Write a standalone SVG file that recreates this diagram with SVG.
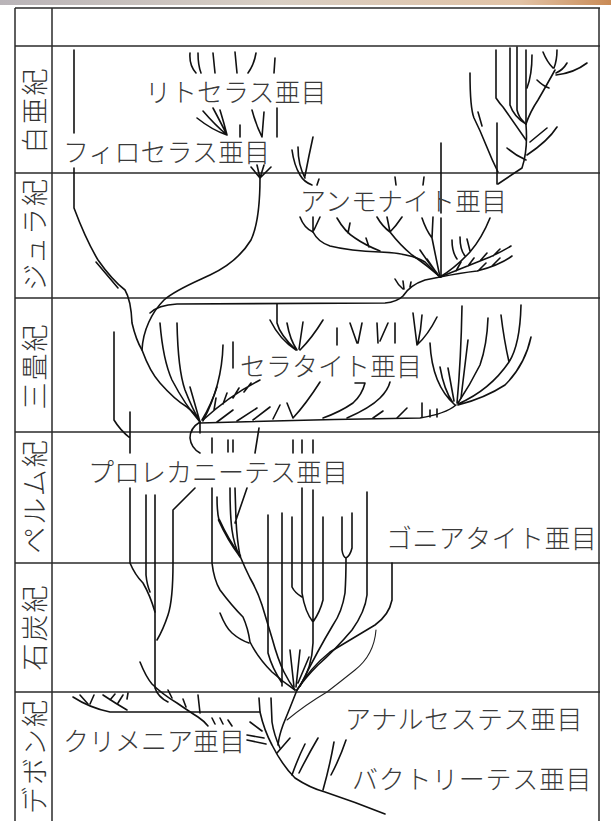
<svg xmlns="http://www.w3.org/2000/svg" width="611" height="821" viewBox="0 0 611 821">
<defs>
<linearGradient id="strip" x1="0" y1="0" x2="1" y2="0">
<stop offset="0" stop-color="#b9b4b8"/><stop offset="0.45" stop-color="#d9cfc4"/><stop offset="0.85" stop-color="#e2c3a6"/><stop offset="1" stop-color="#c98a55"/>
</linearGradient>
<style>
.f{stroke:#2b2b2b;stroke-width:1.5;fill:none}
.t{stroke:#111;stroke-width:1.6;fill:none;stroke-linecap:round;stroke-linejoin:round}
.tk{stroke:#111;stroke-width:2.6;fill:none;stroke-linecap:round}
.th{stroke:#222;stroke-width:1.1;fill:none;stroke-linecap:round}
.lbl{font-family:"Noto Sans CJK JP","Noto Sans CJK SC",sans-serif;font-size:26px;font-weight:300;fill:#3a3a3a}
.per{font-family:"Noto Sans CJK JP","Noto Sans CJK SC",sans-serif;font-size:27px;font-weight:300;fill:#333;text-anchor:middle;dominant-baseline:central;letter-spacing:2px}
</style>
</defs>
<rect x="0" y="0" width="611" height="821" fill="#fff"/>
<rect x="0" y="0" width="611" height="5" fill="url(#strip)"/>
<g id="frame" class="f">
<path d="M15,8 H600 M15,46 H600 M15,173 H600 M15,298 H600 M15,432 H600 M15,563 H600 M15,692 H600"/>
<path d="M15,8 V821 M52,8 V821 M599,8 V821"/>
</g>
<g id="periods">
<text class="per" transform="translate(33,110) rotate(-90)">白亜紀</text>
<text class="per" transform="translate(33,234) rotate(-90)">ジュラ紀</text>
<text class="per" transform="translate(33,366) rotate(-90)">三畳紀</text>
<text class="per" transform="translate(33,496) rotate(-90)">ペルム紀</text>
<text class="per" transform="translate(33,627) rotate(-90)">石炭紀</text>
<text class="per" transform="translate(33,756) rotate(-90)">デボン紀</text>
</g>
<g id="connectors">
<g id="phylloceras-line" class="t">
<path d="M74,50 V133 M74,168 V208 Q86,240 98,260 Q112,280 125,290 Q131,300 132,323 Q136,340 142,350 Q150,372 160,383 Q175,400 187,407 Q196,414 200,422"/>
<path d="M96,262 L118,288"/>
<path d="M251,167 L260,178 M257,165 L260,178 M264,165 L260,178 M271,167 L260,178"/>
<path d="M260,178 C260,200 258,225 251,240 C240,258 225,268 210,275 C195,282 175,290 164,300 C152,312 143,330 142,350"/>
<path d="M197,118 Q212,130 227,135 M203,111 Q215,125 227,135 M213,108 Q221,123 227,135 M220,110 Q224,123 227,135"/>
<path d="M240,125 V137 M252,110 Q256,125 262,137 M264,112 L262,137 M277,108 V137"/>
</g>
<g id="lytoceras-tips" class="t">
<path d="M190,53 Q189,65 196,73 M198,53 Q198,65 201,73 M213,53 L215,73 M235,52 L237,73 M256,53 Q254,65 248,73 M275,58 L274,73"/>
</g>
<g id="cretaceous-right" class="t">
<path d="M526,50 V125 Q528,150 522,168 L498,184"/>
<path d="M497,123 V184"/>
<path d="M496,50 V98 Q500,104 503,107 Q515,124 526,140"/>
<path d="M510,48 V105 Q514,117 526,124"/>
<path d="M517,47 V110 Q519,118 524,122"/>
<path d="M532,55 Q532,75 527,88"/>
<path d="M543,52 Q547,62 553,68 M557,50 Q557,60 554,68 M567,63 Q563,70 556,73 M587,63 Q574,73 556,75"/>
<path d="M555,70 Q545,88 538,100 Q530,112 526,124"/>
<path d="M537,80 Q543,86 549,88"/>
<path d="M557,127 Q548,141 527,155 M547,128 L530,142 M507,148 Q515,155 526,160"/>
<path d="M470,73 Q470,108 474,118 Q480,130 486,145 Q492,160 498,172 M478,112 L482,126"/>
<path d="M441,143 V213 M441,218 V277"/>
</g>
<g id="ammonite-tree" class="t">
<path d="M292,150 Q294,165 300,175 Q304,182 312,185 M298,147 Q298,165 305,178 M313,137 Q309,155 305,176 M319,179 L317,185"/>
<path d="M395,177 L396,185 M424,177 L423,185"/>
<path d="M150,313 Q158,305 177,304 L385,303 Q397,302 403,296 Q410,285 425,280 L440,277"/>
<path d="M395,279 Q398,285 403,289 M403,281 L404,289 M411,282 L410,287"/>
<path d="M313,232 Q318,242 330,246 Q350,251 380,252 Q410,253 425,262 Q433,270 440,277"/>
<path d="M300,217 Q304,228 313,232 M313,217 L313,232 M320,217 L314,230"/>
<path d="M337,218 Q345,232 355,238 Q365,245 380,251 M350,223 L348,233 M366,238 L369,247"/>
<path d="M377,217 Q382,226 390,232 M387,217 L390,232 M402,217 Q396,226 390,232 M390,232 Q400,245 412,255 Q428,266 440,277"/>
<path d="M422,218 Q426,230 432,238 M433,217 L432,238 M432,238 Q436,258 440,277"/>
<path d="M490,218 Q482,238 470,252 Q455,268 440,277 M452,240 Q452,252 457,259 M460,237 Q460,250 465,256 M467,239 L470,251"/>
<path d="M440,277 Q470,265 490,257 Q503,251 511,246 M456,271 L461,262 M468,266 L474,258 M480,261 L487,253 M493,256 L500,249"/>
<path d="M440,277 Q460,273 477,271 Q500,265 512,256 M478,271 L486,263 M492,266 L500,258"/>
<path d="M420,250 Q430,265 437,273 M427,259 L438,275"/>
</g>
<g id="ceratite-tree" class="t">
<path d="M160,323 Q163,360 172,380 Q185,405 200,422 M177,323 Q178,370 185,390 Q192,408 200,422 M190,387 L200,422 M223,345 Q222,385 203,421 M233,342 L233,368"/>
<path d="M260,380 Q230,395 203,420 M214,410 L216,398 M223,404 L227,393 M233,398 L239,388 M244,392 L251,383 M217,387 Q211,405 202,420"/>
<path d="M200,423 Q300,420 420,418 Q445,414 456,405"/>
<path d="M217,422 L233,410 M237,421 L257,408 M253,420 L270,407 M273,419 L280,405"/>
<path d="M287,403 L293,418 M293,418 Q306,404 320,382"/>
<path d="M355,383 L365,383 Q362,395 353,403 Q340,412 323,418"/>
<path d="M347,418 Q370,408 380,398 Q388,390 390,382 M373,418 L383,411 M397,418 L407,408"/>
<path d="M422,403 V417 M430,410 V417 M437,409 V417"/>
<path d="M462,306 Q461,360 457,403 M488,318 Q487,345 480,365 Q470,385 458,403"/>
<path d="M521,305 Q520,345 509,362 M501,315 Q504,340 509,362 M509,362 Q490,390 458,404 M531,337 Q525,365 505,385 Q485,398 458,405"/>
<path d="M430,343 Q432,385 455,405 M440,367 Q444,390 453,403 M448,368 L454,401 M468,340 L461,398"/>
<path d="M277,304 L277,323 Q280,335 296,350 M270,320 Q280,340 296,350 M287,323 Q290,340 297,350 M303,322 L299,349 M323,320 Q312,338 300,350"/>
<path d="M337,328 V345 M350,323 L357,343 M362,323 L358,343"/>
<path d="M377,323 L378,343 M388,323 L380,341 M395,323 V343"/>
<path d="M413,313 L417,345 M422,315 Q421,330 418,343 M437,317 Q428,335 417,345"/>
<path d="M114,332 V420 Q120,430 130,438 M130,412 V453"/>
<path d="M200,422 Q190,428 190,438 Q191,448 200,453 M200,422 V433"/>
<path d="M212,438 V453 M228,440 V452 M233,440 V452 M259,428 L255,453 M293,440 V453 M302,440 V453 M313,440 V453"/>
</g>
<g id="prolecanites-lines" class="t">
<path d="M130,488 V563 Q135,575 143,583 Q150,595 155,612"/>
<path d="M146,495 V575 Q147,585 150,592"/>
<path d="M155,495 V688 Q158,697 168,702"/>
<path d="M195,488 L173,510 V563 Q173,600 168,615 Q163,630 157,640"/>
</g>
<g id="goniatite-tree" class="t">
<path d="M212,488 V563 Q214,580 220,590 Q232,606 243,617 Q248,628 250,642 Q258,658 272,672 Q283,682 295,690"/>
<path d="M220,613 Q226,628 232,633 Q240,640 249,643"/>
<path d="M217,497 Q217,512 219,520 M240,556 Q245,568 250,578 Q258,592 262,605 Q268,625 272,638 Q278,660 284,672 Q289,682 295,690"/>
<path class="tk" d="M219,520 Q228,540 240,556"/>
<path d="M230,488 Q230,515 232,530 Q234,545 240,557 M235,488 L236,520 Q237,540 240,556 M247,488 L235,523"/>
<path d="M268,515 V653 Q272,668 282,683 M282,513 V686"/>
<path d="M292,517 V587 Q295,593 302,597 M302,488 V593 Q305,612 313,622 M313,490 V643 Q312,668 300,686 M323,517 V600 Q320,612 313,622"/>
<path d="M342,517 V550 Q343,557 346,558 M352,513 V548 Q350,556 346,558 M346,558 Q346,578 345,593 Q342,612 333,625 Q318,650 300,686"/>
<path d="M367,492 V595 Q365,612 352,630 Q335,650 318,665 Q305,678 297,690"/>
<path d="M392,563 V600 Q389,615 375,625 Q350,640 330,652 Q310,668 297,690"/>
<path class="th" d="M376,630 Q374,655 355,670 Q340,682 327,692 Q305,705 287,720"/>
<path d="M290,650 L294,687 M300,650 L296,687 M309,657 L298,683"/>
</g>
<g id="devonian-tree" class="t">
<path d="M259,698 L260,712 Q264,730 272,745 Q282,765 295,778 Q310,788 325,792 Q355,802 385,814"/>
<path d="M271,698 L272,722 Q274,735 280,748"/>
<path d="M297,690 Q290,708 283,725 Q279,736 278,745"/>
<path d="M277,753 L290,738 M292,775 Q298,758 305,744 M299,773 Q308,755 318,738 M323,790 Q330,765 334,742 M331,775 Q340,758 346,740"/>
<path d="M73,697 Q90,708 110,712 L260,712"/>
<path d="M80,695 L88,704 M94,695 L90,704 M103,695 Q115,703 127,710 M110,700 L115,694 M118,703 L123,695 M127,699 L128,693"/>
<path d="M140,662 Q146,677 152,684 Q162,694 177,703 Q190,712 198,717 Q204,721 208,726"/>
<path d="M168,690 L172,698 M183,699 L186,707 M198,695 L200,713"/>
<path d="M212,718 L215,724 M220,718 L223,724 M228,720 L232,726"/>
<path d="M250,722 L262,731 M247,735 L264,738 M247,740 L266,744"/>
</g>
</g>
<g id="node-lytoceratina"><text class="lbl" x="145" y="102">リトセラス亜目</text></g>
<g id="node-phylloceratina"><text class="lbl" x="63" y="162">フィロセラス亜目</text></g>
<g id="node-ammonitina"><text class="lbl" x="300" y="211">アンモナイト亜目</text></g>
<g id="node-ceratitina"><text class="lbl" x="240" y="376">セラタイト亜目</text></g>
<g id="node-prolecanitina"><text class="lbl" x="88" y="482">プロレカニーテス亜目</text></g>
<g id="node-goniatitina"><text class="lbl" x="386" y="548" letter-spacing="0.4">ゴニアタイト亜目</text></g>
<g id="node-anarcestina"><text class="lbl" x="345" y="729" letter-spacing="0.5">アナルセステス亜目</text></g>
<g id="node-clymeniina"><text class="lbl" x="63" y="751">クリメニア亜目</text></g>
<g id="node-bactritina"><text class="lbl" x="352" y="789" letter-spacing="0.7">バクトリーテス亜目</text></g>
</svg>
